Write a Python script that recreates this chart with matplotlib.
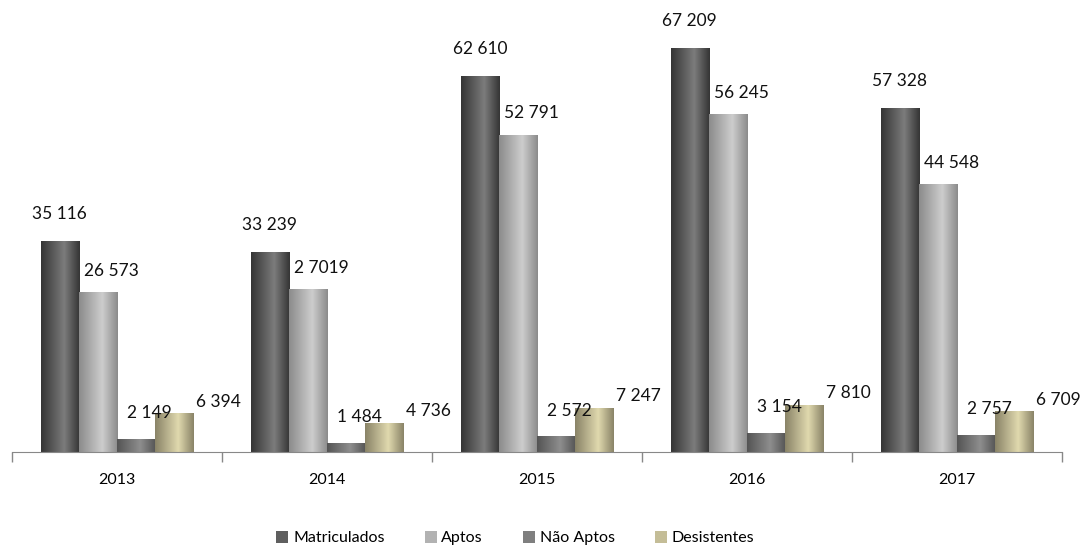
import numpy as np
import matplotlib.pyplot as plt
from matplotlib.colors import LinearSegmentedColormap

plt.rcParams['font.family'] = ['Lato', 'DejaVu Sans']

# data
years = ['2013', '2014', '2015', '2016', '2017']
series_names = ['Matriculados', 'Aptos', 'Não Aptos', 'Desistentes']
matriculados = [35116, 33239, 62610, 67209, 57328]
aptos = [26573, 27019, 52791, 56245, 44548]
nao_aptos = [2149, 1484, 2572, 3154, 2757]
desistentes = [6394, 4736, 7247, 7810, 6709]
# labels as printed in the source (note "2 7019")
labels_matriculados = ['35 116', '33 239', '62 610', '67 209', '57 328']
labels_aptos = ['26 573', '2 7019', '52 791', '56 245', '44 548']
labels_nao_aptos = ['2 149', '1 484', '2 572', '3 154', '2 757']
labels_desistentes = ['6 394', '4 736', '7 247', '7 810', '6 709']

values = [matriculados, aptos, nao_aptos, desistentes]
labels = [labels_matriculados, labels_aptos, labels_nao_aptos, labels_desistentes]

# style: solid legend colour + gradient (edge, highlight) for each series
solid = ['#5f5f5f', '#b2b2b2', '#7f7f7f', '#c4bd97']
grad = [('#353535', '#7c7c7c'), ('#8c8c8c', '#cdcdcd'),
        ('#555555', '#8e8e8e'), ('#8a8468', '#e0d9ae')]
# label offsets in points (dx, dy) per series
label_off = [(0, 14), (10, 10), (10, 13), (32, 3)]

fig = plt.figure(figsize=(10.8, 5.45), dpi=100)
ax = fig.add_axes([0.011, 0.1706, 0.972, 0.7924])

x = np.arange(len(years))
w = 0.181
handles = []
for i, (vals, name) in enumerate(zip(values, series_names)):
    bars = ax.bar(x + (i - 1.5) * w, vals, w, color=solid[i], label=name,
                  linewidth=0, zorder=2)
    handles.append(bars)
    c0, c1 = grad[i]
    cmap = LinearSegmentedColormap.from_list(
        'g%d' % i, [(0, c0), (0.6, c1), (1, c0)])
    g = np.linspace(0, 1, 64).reshape(1, -1)
    for b in bars:
        x0, y0 = b.get_x(), b.get_y()
        ax.imshow(g, cmap=cmap, aspect='auto', zorder=3,
                  extent=(x0, x0 + b.get_width(), y0, y0 + b.get_height()))
    for b, txt in zip(bars, labels[i]):
        ax.annotate(txt, (b.get_x() + b.get_width() / 2, b.get_height()),
                    xytext=label_off[i], textcoords='offset points',
                    ha='center', va='bottom', fontsize=12.5, color='#111111',
                    zorder=4)

ax.set_xlim(-0.5, len(years) - 0.5)
ax.set_ylim(0, 72000)
ax.set_xticks(x)
ax.set_xticklabels(years, fontsize=11.5)
ax.set_xticks(np.arange(-0.5, len(years)), minor=True)
ax.tick_params(axis='x', which='major', length=0, pad=15)
ax.tick_params(axis='x', which='minor', length=7, color='#888888', width=1)
ax.set_yticks([])
for s in ['top', 'right', 'left']:
    ax.spines[s].set_visible(False)
ax.spines['bottom'].set_color('#888888')
ax.spines['bottom'].set_zorder(5)

fig.legend(handles=handles, labels=series_names, loc='lower center',
           bbox_to_anchor=(0.477, -0.027), ncol=4, frameon=False, fontsize=11.5,
           handlelength=0.75, handleheight=0.75, handletextpad=0.3,
           columnspacing=2.5)

fig.savefig('out.png', dpi=100)
